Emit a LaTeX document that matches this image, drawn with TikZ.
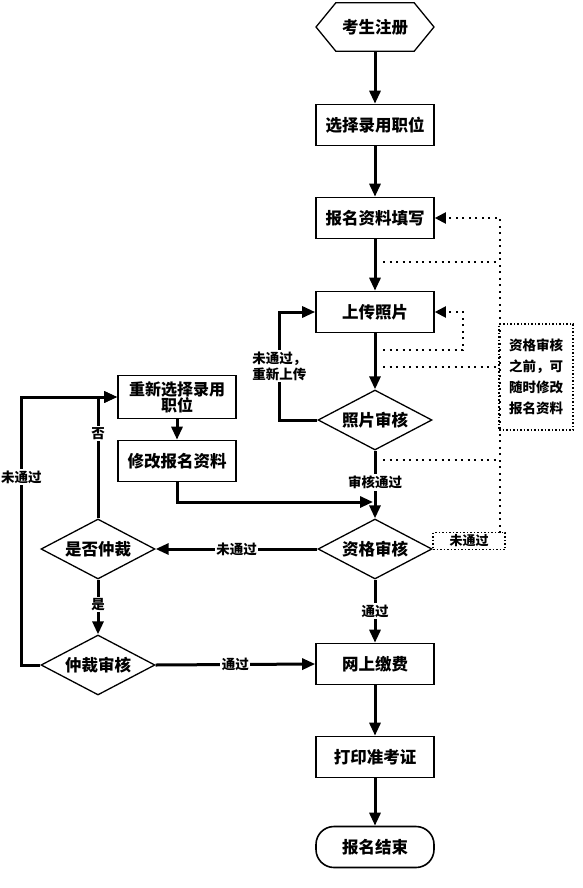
\documentclass[tikz,border=0pt]{standalone}
\usepackage{fontspec}
\setmainfont{Noto Sans CJK SC}
\usetikzlibrary{arrows.meta,shapes.geometric}
\tikzset{
  boxn/.style={draw, line width=1.6pt, minimum width=118pt, minimum height=41pt, inner sep=1pt, font=\fontsize{16.5}{18}\selectfont\bfseries, align=center},
  dian/.style={draw, diamond, line width=1.3pt, shape aspect=1.9, minimum width=114pt, minimum height=60pt, inner sep=0pt, font=\fontsize{16.5}{18}\selectfont\bfseries},
  flow/.style={line width=3pt, -{Triangle[length=13pt,width=11pt]}},
  dotl/.style={line width=2pt, dash pattern=on 2pt off 4.5pt},
  dota/.style={dotl, -{Triangle[length=11pt,width=11pt]}},
  lab/.style={fill=white, inner sep=1.5pt, font=\fontsize{13.5}{16}\selectfont\bfseries, align=center},
}
\begin{document}
\begin{tikzpicture}[x=1pt,y=-1pt]
\useasboundingbox (0,0) rectangle (583,888);
% nodes
\node[minimum width=118pt, minimum height=48pt, font=\fontsize{16.5}{18}\selectfont\bfseries] (n1) at (375,27) {考生注册};
\draw[line width=1.3pt] ([xshift=-59pt]n1.center) -- ([xshift=20pt]n1.north west) -- ([xshift=-20pt]n1.north east) -- ([xshift=59pt]n1.center) -- ([xshift=-20pt]n1.south east) -- ([xshift=20pt]n1.south west) -- cycle;
\node[boxn] (n2) at (375,125) {选择录用职位};
\node[boxn] (n3) at (375,218) {报名资料填写};
\node[boxn] (n4) at (375,312) {上传照片};
\node[dian] (d1) at (375,420) {照片审核};
\node[dian] (d2) at (375,549) {资格审核};
\node[boxn] (n8) at (375,664) {网上缴费};
\node[boxn] (n9) at (375,757) {打印准考证};
\node[boxn, rounded corners=18pt] (n10) at (375,847) {报名结束};
\node[boxn, font=\fontsize{16}{16}\selectfont\bfseries, minimum height=43pt, inner sep=0pt] (n5) at (177,397) {重新选择录用\\职位};
\node[boxn] (n6) at (177,461) {修改报名资料};
\node[dian] (d3) at (98,549) {是否仲裁};
\node[dian] (d4) at (98,665) {仲裁审核};
\node[draw, line width=1.3pt, dash pattern=on 1.5pt off 2pt, minimum width=72pt, minimum height=17pt, inner sep=0pt, font=\fontsize{13}{14}\selectfont\bfseries] (n11) at (469,541) {未通过};
\node[draw, line width=1.3pt, dash pattern=on 1.5pt off 2pt, minimum width=74pt, minimum height=106pt, inner sep=2pt, align=center, font=\fontsize{13.5}{21}\selectfont\bfseries] (n12) at (536,377) {资格审核\\之前，可\\随时修改\\报名资料};
% main flow
\draw[flow] (n1) -- (n2);
\draw[flow] (n2) -- (n3);
\draw[flow] (n3) -- (n4);
\draw[flow] (n4) -- (d1);
\draw[flow] (d1) -- node[lab, pos=0.47] {审核通过} (d2);
\draw[flow] (d2) -- node[lab, pos=0.5] {通过} (n8);
\draw[flow] (n8) -- (n9);
\draw[flow] (n9) -- (n10);
\draw[flow] (d1.west) -- ++(-38,0) |- node[lab, pos=0.25] {未通过，\\重新上传} (n4.west);
\draw[flow] (n5) -- (n6);
\coordinate (j1) at (373,502);
\draw[flow] (n6.south) |- (j1);
\draw[flow] (d2.west) -- node[lab, pos=0.5] {未通过} (d3.east);
\draw[flow] (d3.north) |- node[lab, pos=0.35] {否} (n5.west);
\draw[flow] (d3.south) -- node[lab, pos=0.45] {是} (d4.north);
\draw[flow] (d4.west) -- ++(-19,0) |- node[lab, pos=0.35] {未通过} (n5.west);
\draw[flow] (d4.east) -- node[lab, pos=0.5] {通过} (n8.west);
% dotted
\coordinate (v1) at (500,533);
\draw[dota] (v1) |- (n3.east);
\coordinate (h1a) at (383,262); \coordinate (h1b) at (500,262);
\coordinate (h2a) at (383,367); \coordinate (h2b) at (500,367);
\coordinate (h3a) at (383,460); \coordinate (h3b) at (500,460);
\coordinate (h4a) at (383,350);
\draw[dotl] (h1a) -- (h1b);
\draw[dotl] (h2a) -- (h2b);
\draw[dotl] (h3a) -- (h3b);
\draw[dota] (h4a) -- (463,350) |- (n4.east);
\end{tikzpicture}
\end{document}
